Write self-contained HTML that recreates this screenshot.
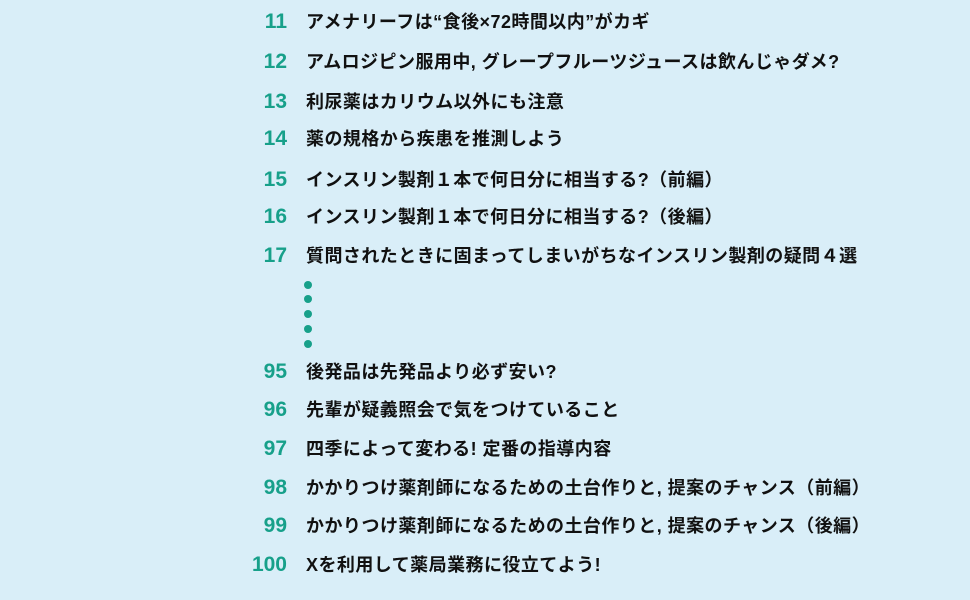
<!DOCTYPE html>
<html><head><meta charset="utf-8"><style>
body{margin:0;width:970px;height:600px;background:#d9eef8;overflow:hidden;position:relative;font-family:"Liberation Sans","Noto Sans CJK JP",sans-serif}
.n{position:absolute;right:683px;width:60px;text-align:right;color:#17a08a;font-weight:bold;font-size:21px;line-height:24px}
.t{position:absolute;left:306px;color:#111;font-size:18px;line-height:24px;white-space:nowrap;font-weight:bold;letter-spacing:0.45px}
.d{position:absolute;left:304px;width:8px;height:8px;border-radius:50%;background:#17a08a}
</style></head><body>
<div class="n" style="top:10px">11</div><div class="t" style="top:10px">アメナリーフは“食後×72時間以内”がカギ</div>
<div class="n" style="top:50px">12</div><div class="t" style="top:50px">アムロジピン服用中, グレープフルーツジュースは飲んじゃダメ?</div>
<div class="n" style="top:90px">13</div><div class="t" style="top:90px">利尿薬はカリウム以外にも注意</div>
<div class="n" style="top:127px">14</div><div class="t" style="top:127px">薬の規格から疾患を推測しよう</div>
<div class="n" style="top:168px">15</div><div class="t" style="top:168px">インスリン製剤１本で何日分に相当する?（前編）</div>
<div class="n" style="top:205px">16</div><div class="t" style="top:205px">インスリン製剤１本で何日分に相当する?（後編）</div>
<div class="n" style="top:244px">17</div><div class="t" style="top:244px">質問されたときに固まってしまいがちなインスリン製剤の疑問４選</div>
<div class="d" style="top:281px"></div><div class="d" style="top:295px"></div><div class="d" style="top:310px"></div><div class="d" style="top:325px"></div><div class="d" style="top:340px"></div>
<div class="n" style="top:360px">95</div><div class="t" style="top:360px">後発品は先発品より必ず安い?</div>
<div class="n" style="top:398px">96</div><div class="t" style="top:398px">先輩が疑義照会で気をつけていること</div>
<div class="n" style="top:437px">97</div><div class="t" style="top:437px">四季によって変わる! 定番の指導内容</div>
<div class="n" style="top:476px">98</div><div class="t" style="top:476px">かかりつけ薬剤師になるための土台作りと, 提案のチャンス（前編）</div>
<div class="n" style="top:514px">99</div><div class="t" style="top:514px">かかりつけ薬剤師になるための土台作りと, 提案のチャンス（後編）</div>
<div class="n" style="top:553px">100</div><div class="t" style="top:553px">Xを利用して薬局業務に役立てよう!</div>
</body></html>
